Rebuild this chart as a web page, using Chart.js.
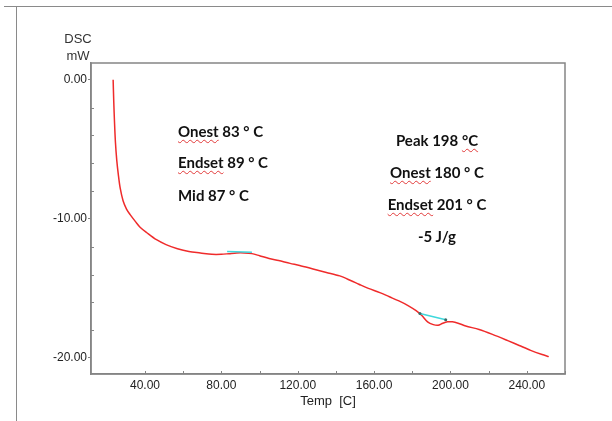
<!DOCTYPE html>
<html lang="en">
<head>
    <meta charset="UTF-8">
    <title>DSC</title>
    <style>
        body {
            margin: 0;
            background: #fff;
            font-family: "Liberation Sans", Arial, sans-serif;
        }
        .page {
            position: relative;
            width: 612px;
            height: 421px;
            overflow: hidden;
        }
        .frame-top {
            position: absolute;
            left: 4px; top: 6px;
            width: 608px; height: 0;
            border-top: 1.5px solid #8a8a8a;
        }
        .frame-left {
            position: absolute;
            left: 16px; top: 6px;
            width: 0; height: 415px;
            border-left: 1.5px solid #8a8a8a;
        }
        canvas { position: absolute; left: 0; top: 0; }
        .ytitle {
            position: absolute;
            left: 56px; width: 44px;
            text-align: center;
            font-size: 13px;
            color: #333;
            line-height: 16px;
        }
        .note {
            position: absolute;
            font-family: Lato, "Open Sans", sans-serif;
            font-weight: 700;
            font-size: 15px;
            color: #111;
            white-space: nowrap;
            line-height: 17px;
            transform: translateY(-50%);
        }
        .right { transform: translate(-50%, -50%); }
        .sp {
            text-decoration: underline wavy #e23a3a;
            text-decoration-thickness: 1px;
            text-underline-offset: 2px;
        }
    </style>
    <script src="https://cdn.jsdelivr.net/npm/chart.js"></script>
</head>
<body>
<div class="page">
    <div class="frame-top"></div>
    <div class="frame-left"></div>
    <canvas id="dsc" width="612" height="421"></canvas>

    <div class="ytitle" style="top:31px">DSC</div>
    <div class="ytitle" style="top:48px">mW</div>

    <div class="note" style="left:178px; top:131px"><span class="sp">Onest</span> 83 ° C</div>
    <div class="note" style="left:178px; top:162px"><span class="sp">Endset</span> 89 ° C</div>
    <div class="note" style="left:178px; top:195px">Mid 87 ° C</div>

    <div class="note right" style="left:437px; top:140px">Peak 198 <span class="sp">°C</span></div>
    <div class="note right" style="left:437px; top:172px"><span class="sp">Onest</span> 180 ° C</div>
    <div class="note right" style="left:437px; top:204px"><span class="sp">Endset</span> 201 ° C</div>
    <div class="note right" style="left:437px; top:236px">-5 J/g</div>
</div>

<script>
    // DSC curve: temperature [C] and heat flow [mW]
    const temps = [23.3, 23.6, 24.0, 24.5, 25.2, 26.0, 27.0, 28.5, 30.3, 32.2, 35, 37.4, 41, 46, 51, 57, 63, 69, 75, 80,
        84, 88, 92, 96, 100, 105, 110, 116, 121, 128, 135, 142, 148, 152, 157, 163, 168, 173, 178, 182,
        185, 188, 191, 193.5, 196, 198.5, 201, 204, 208, 215, 222, 230, 236, 242, 248, 251.5];
    const dscValues = [0, -1.5, -3.0, -4.5, -5.8, -6.8, -7.8, -8.7, -9.3, -9.7, -10.2, -10.6, -11.0, -11.5, -11.85, -12.15, -12.35, -12.45, -12.55, -12.55,
        -12.5, -12.45, -12.45, -12.5, -12.65, -12.85, -13.0, -13.2, -13.35, -13.6, -13.85, -14.1, -14.45, -14.7, -15.0, -15.3, -15.6, -15.9, -16.25, -16.6,
        -16.95, -17.4, -17.6, -17.65, -17.5, -17.4, -17.4, -17.5, -17.7, -17.95, -18.3, -18.75, -19.1, -19.45, -19.75, -19.9];

    // baselines drawn by the analysis software
    const glassBaseT = [83, 96];
    const glassBaseV = [-12.35, -12.4];
    const peakBaseT = [184, 197.5];
    const peakBaseV = [-16.8, -17.25];

    const xMin = 11.7, xMax = 260;
    const yMin = -21.15, yMax = 1.2;

    const toPoints = (xs, ys) => xs.map((x, i) => ({ x: x, y: ys[i] }));

    const axisGray = '#858585';

    // short inward ticks like the instrument software draws
    const innerTicks = {
        id: 'innerTicks',
        afterDraw(chart) {
            const ctx = chart.ctx;
            const area = chart.chartArea;
            const xs = chart.scales.x, ys = chart.scales.y;
            ctx.save();
            ctx.strokeStyle = axisGray;
            ctx.lineWidth = 1;
            ctx.beginPath();
            xs.ticks.forEach(t => {
                const px = Math.round(xs.getPixelForValue(t.value)) + 0.5;
                ctx.moveTo(px, area.bottom);
                ctx.lineTo(px, area.bottom - 3);
            });
            ys.ticks.forEach(t => {
                if (t.value % 10 === 0) return;
                const py = Math.round(ys.getPixelForValue(t.value)) + 0.5;
                ctx.moveTo(area.left, py);
                ctx.lineTo(area.left + 3, py);
            });
            ctx.stroke();
            ctx.lineWidth = 1.5;
            ctx.strokeRect(area.left, area.top, area.right - area.left, area.bottom - area.top);
            ctx.restore();
        }
    };

    new Chart(document.getElementById('dsc'), {
        type: 'scatter',
        data: {
            datasets: [
                {
                    data: toPoints(glassBaseT, glassBaseV),
                    showLine: true,
                    borderColor: '#3fd8dc',
                    borderWidth: 1.5,
                    pointRadius: 0
                },
                {
                    data: toPoints(peakBaseT, peakBaseV),
                    showLine: true,
                    borderColor: '#3fd8dc',
                    borderWidth: 1.5,
                    pointRadius: 1.5,
                    pointBackgroundColor: '#3a6a66',
                    pointBorderWidth: 0
                },
                {
                    data: toPoints(temps, dscValues),
                    showLine: true,
                    borderColor: '#ef2b2b',
                    borderWidth: 1.5,
                    pointRadius: 0,
                    tension: 0.3
                }
            ]
        },
        options: {
            responsive: false,
            animation: false,
            layout: { padding: { left: 0, top: 63, right: 47, bottom: 0 } },
            plugins: {
                legend: { display: false },
                tooltip: { enabled: false }
            },
            scales: {
                x: {
                    type: 'linear',
                    min: xMin,
                    max: xMax,
                    afterBuildTicks: s => { s.ticks = s.ticks.filter(t => Number.isInteger(t.value) && t.value % 20 === 0); },
                    afterFit: s => { s.height = 47; },
                    grid: { display: true, drawOnChartArea: false, drawTicks: false },
                    border: { color: axisGray, width: 1.5 },
                    ticks: {
                        stepSize: 20,
                        padding: 4,
                        maxRotation: 0,
                        autoSkip: false,
                        color: '#222',
                        font: { family: '"Liberation Sans", Arial, sans-serif', size: 12 },
                        callback: v => (v % 40 === 0 ? v.toFixed(2) : '')
                    },
                    title: {
                        display: true,
                        text: 'Temp  [C]',
                        color: '#222',
                        font: { family: '"Liberation Sans", Arial, sans-serif', size: 13 },
                        padding: { top: 0, bottom: 12 }
                    }
                },
                y: {
                    type: 'linear',
                    min: yMin,
                    max: yMax,
                    afterBuildTicks: s => { s.ticks = s.ticks.filter(t => Number.isInteger(t.value) && t.value % 2 === 0); },
                    afterFit: s => { s.width = 91; },
                    grid: {
                        drawOnChartArea: false,
                        tickLength: 3,
                        color: c => (c.tick && c.tick.value % 10 === 0 ? axisGray : 'rgba(0,0,0,0)')
                    },
                    border: { color: axisGray, width: 1.5 },
                    ticks: {
                        stepSize: 2,
                        padding: 1,
                        autoSkip: false,
                        color: '#222',
                        font: { family: '"Liberation Sans", Arial, sans-serif', size: 12 },
                        callback: v => (v % 10 === 0 ? v.toFixed(2) : '')
                    }
                }
            }
        },
        plugins: [innerTicks]
    });
</script>
</body>
</html>
